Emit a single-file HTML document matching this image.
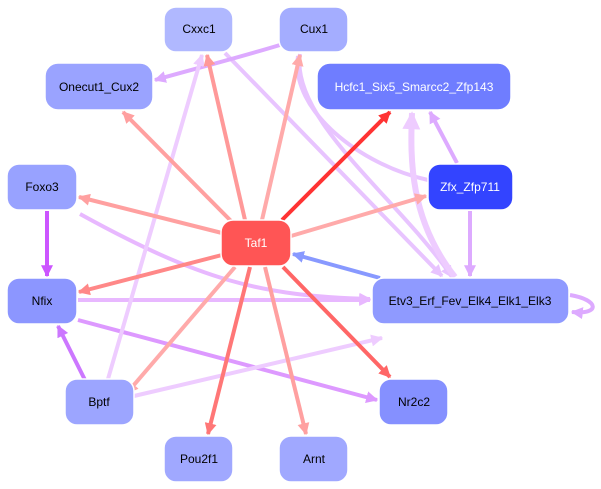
<!DOCTYPE html>
<html><head><meta charset="utf-8"><style>
body{margin:0;background:#fff}
svg{display:block}
text{font-family:"Liberation Sans",sans-serif;font-size:12px;text-anchor:middle;dominant-baseline:central}
</style></head><body>
<svg width="601" height="489" viewBox="0 0 601 489" xmlns="http://www.w3.org/2000/svg">
<defs>
<marker id="m" viewBox="0 0 10 10" refX="9" refY="5" markerWidth="3" markerHeight="3" orient="auto"><path d="M0,0L10,5L0,10z" fill="context-stroke"/></marker>
</defs>
<g fill="none" stroke-width="4" marker-end="url(#m)">
<!-- lavender edges -->
<path d="M225,53 L442,276" stroke="#e8c4ff"/>
<path d="M300,54 C290,120 400,200 452,277" stroke="#e8c4ff"/>
<path d="M298,56 C290,110 360,165 428,180" stroke="#e8c4ff" marker-end="none"/>
<path d="M455,277 C410,220 410,160 412,113" stroke="#eeccff" stroke-width="6"/>
<path d="M457,163 L430,112" stroke="#ddaaff"/>
<path d="M470,211 L470,276" stroke="#ddaaff"/>
<path d="M280,45 C230,60 190,70 155,80" stroke="#ddaaff"/>
<path d="M80,214 C200,280 260,296 370,299" stroke="#e8b8ff"/>
<path d="M78,300 L370,300" stroke="#e8b8ff"/>
<path d="M78,320 L377,400" stroke="#dd99ff"/>
<path d="M85,380 L58,326" stroke="#cc77ff"/>
<path d="M108,379 L202,55" stroke="#eeccff"/>
<path d="M134,396 L382,338" stroke="#eeccff"/>
<path d="M47,211 L47,276" stroke="#cc55ff"/>
<path d="M570,295 C600,300 600,315 572,312" stroke="#ddaaff"/>
<!-- red edges -->
<path d="M245,220 L207,55" stroke="#ff9999"/>
<path d="M262,220 L300,55" stroke="#ffaaaa"/>
<path d="M232,222 L123,112" stroke="#ffa0a0"/>
<path d="M282,220 L390,112" stroke="#ff3333"/>
<path d="M222,233 L79,197" stroke="#ffa0a0"/>
<path d="M291,236 L426,196" stroke="#ffaaaa"/>
<path d="M222,255 L79,292" stroke="#ff8888"/>
<path d="M235,267 L127,393" stroke="#ffaaaa"/>
<path d="M250,267 L208,434" stroke="#ff7777"/>
<path d="M265,267 L306,434" stroke="#ffa0a0"/>
<path d="M283,267 L390,377" stroke="#ff6666"/>
<path d="M380,278 L293,254" stroke="#8899ff"/>
</g>
<g stroke="#fff" stroke-width="1.5">
<rect x="164" y="7" width="69" height="45" rx="12" fill="#b0b8ff"/>
<rect x="279" y="7" width="69" height="45" rx="12" fill="#a4adff"/>
<rect x="45" y="63" width="108" height="47" rx="13" fill="#9aa3ff"/>
<rect x="317" y="63" width="194" height="47" rx="13" fill="#6f7dff"/>
<rect x="7" y="164" width="70" height="46" rx="12" fill="#98a2ff"/>
<rect x="428" y="164" width="85" height="46" rx="12" fill="#3344ff"/>
<rect x="221" y="220" width="70" height="46" rx="12" fill="#ff5555"/>
<rect x="7" y="278" width="70" height="46" rx="12" fill="#8c96ff"/>
<rect x="372" y="278" width="197" height="46" rx="12" fill="#8f9aff"/>
<rect x="65" y="379" width="69" height="46" rx="12" fill="#9ca5ff"/>
<rect x="379" y="379" width="69" height="46" rx="12" fill="#8590ff"/>
<rect x="164" y="436" width="69" height="46" rx="12" fill="#a0a8ff"/>
<rect x="279" y="436" width="69" height="46" rx="12" fill="#a0a8ff"/>
</g>
<text x="199" y="29">Cxxc1</text>
<text x="314" y="29">Cux1</text>
<text x="99" y="87">Onecut1_Cux2</text>
<text x="414" y="87" fill="#fff">Hcfc1_Six5_Smarcc2_Zfp143</text>
<text x="42" y="187">Foxo3</text>
<text x="470" y="187" fill="#fff">Zfx_Zfp711</text>
<text x="256" y="243" fill="#fff">Taf1</text>
<text x="42" y="301">Nfix</text>
<text x="470" y="301">Etv3_Erf_Fev_Elk4_Elk1_Elk3</text>
<text x="99" y="402">Bptf</text>
<text x="414" y="402">Nr2c2</text>
<text x="199" y="459">Pou2f1</text>
<text x="314" y="459">Arnt</text>
</svg>
</body></html>
